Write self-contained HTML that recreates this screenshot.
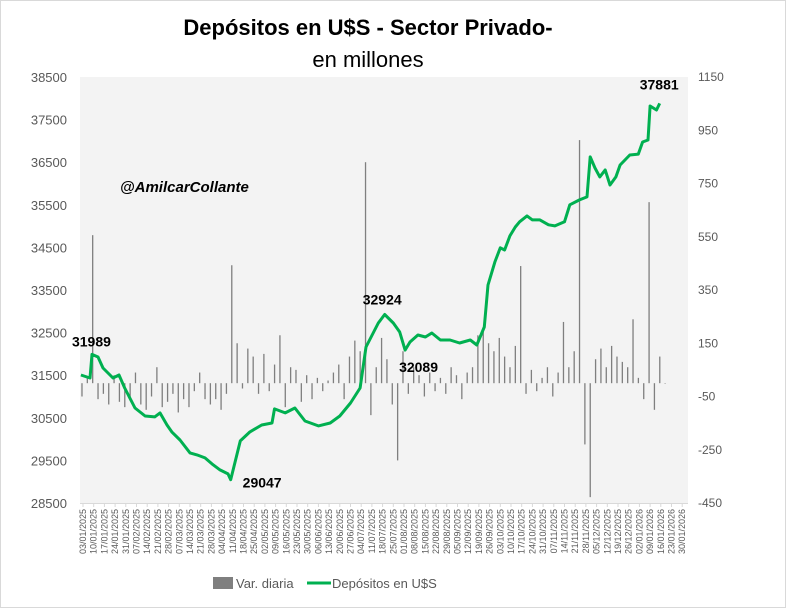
<!DOCTYPE html>
<html><head><meta charset="utf-8"><style>
body{margin:0;background:#fff;}
svg{display:block;font-family:"Liberation Sans",sans-serif;}
</style></head><body>
<svg id="chart" width="786" height="608" viewBox="0 0 786 608">
<rect x="0.5" y="0.5" width="785" height="607" fill="#fff" stroke="#d9d9d9"/>
<text x="368" y="35" text-anchor="middle" font-size="22" font-weight="bold" fill="#000">Depósitos en U$S - Sector Privado-</text>
<text x="368" y="67" text-anchor="middle" font-size="22" fill="#000">en millones</text>
<rect x="80" y="77" width="608" height="426" fill="#f3f3f3"/>
<g id="bars"></g>
<g id="axes"></g>
<path id="line" fill="none" stroke="#00b050" stroke-width="3" stroke-linejoin="round"/>
<text x="120" y="192" font-size="15" font-weight="bold" font-style="italic" fill="#000">@AmilcarCollante</text>
<g id="annots" font-size="14" font-weight="bold" fill="#000"></g>
<g>
<rect x="213" y="577" width="20" height="12" fill="#7f7f7f"/>
<text x="236" y="588" font-size="13" fill="#595959">Var. diaria</text>
<line x1="307" y1="583" x2="331" y2="583" stroke="#00b050" stroke-width="3"/>
<text x="332" y="588" font-size="13" fill="#595959">Depósitos en U$S</text>
</g>
</svg>
<script>
const weekLabels=["03/01/2025","10/01/2025","17/01/2025","24/01/2025","31/01/2025","07/02/2025","14/02/2025","21/02/2025","28/02/2025","07/03/2025","14/03/2025","21/03/2025","28/03/2025","04/04/2025","11/04/2025","18/04/2025","25/04/2025","02/05/2025","09/05/2025","16/05/2025","23/05/2025","30/05/2025","06/06/2025","13/06/2025","20/06/2025","27/06/2025","04/07/2025","11/07/2025","18/07/2025","25/07/2025","01/08/2025","08/08/2025","15/08/2025","22/08/2025","29/08/2025","05/09/2025","12/09/2025","19/09/2025","26/09/2025","03/10/2025","10/10/2025","17/10/2025","24/10/2025","31/10/2025","07/11/2025","14/11/2025","21/11/2025","28/11/2025","05/12/2025","12/12/2025","19/12/2025","26/12/2025","02/01/2026","09/01/2026","16/01/2026","23/01/2026","30/01/2026"];
const leftTicks=[28500,29500,30500,31500,32500,33500,34500,35500,36500,37500,38500];
const rightTicks=[-450,-250,-50,150,350,550,750,950,1150];
const lineWeeks=[-0.2,0.65,0.84,1.4,1.87,2.8,3.36,3.9,4.86,5.8,6.7,7.2,7.85,8.3,9.07,10,10.65,11.4,12.06,12.8,13.55,13.8,14.7,15.6,16.7,17.66,17.9,18.9,19.8,20.75,22,23.1,24,25,25.9,26.45,27.6,28.2,29,29.6,30.1,30.56,31.3,32,32.6,33.4,34.3,35.2,36.2,36.8,37.5,37.85,38.5,39,39.4,39.9,40.4,40.8,41.5,42,42.7,43.5,44.1,45,45.5,46.4,47.1,47.4,47.85,48.3,48.8,49.25,49.8,50.2,51.1,51.9,52.3,52.8,53,53.6,53.9];
const lineValues=[31505,31435,31989,31928,31670,31435,31505,31200,30731,30543,30520,30614,30332,30168,29980,29675,29628,29558,29417,29276,29182,29047,29957,30168,30332,30379,30708,30614,30731,30426,30309,30379,30543,30848,31200,32162,32726,32924,32726,32514,32089,32280,32444,32397,32491,32327,32327,32256,32327,32209,32632,33617,34160,34490,34440,34770,34980,35100,35240,35145,35145,35030,35005,35100,35500,35615,35685,36625,36365,36155,36320,35965,36155,36435,36670,36690,36975,37020,37820,37725,37881];
const barValues=[-50,20,556,-60,-40,-80,30,-70,-90,-60,40,-80,-100,-50,60,-90,-70,-40,-110,-60,-90,-30,40,-60,-80,-60,-100,-40,443,150,-20,130,100,-40,110,-30,70,180,-90,60,50,-70,30,-60,20,-30,10,40,70,-60,100,160,120,830,-120,60,170,90,-80,-290,120,-40,60,30,-50,40,-30,20,-40,60,30,-60,40,60,180,200,150,120,170,100,60,140,440,-40,50,-30,20,60,-50,40,230,60,120,913,-230,-428,90,130,60,140,100,80,60,240,20,-60,680,-100,100,0];
const annotations=[{w:0.84,v:31989,t:"31989",dx:-20,dy:-8},{w:13.8,v:29047,t:"29047",dx:12,dy:8},{w:28.2,v:32924,t:"32924",dx:-22,dy:-10},{w:30.1,v:32089,t:"32089",dx:-6,dy:22},{w:53.9,v:37881,t:"37881",dx:-20,dy:-14}];
const NS="http://www.w3.org/2000/svg";
const X0=83,XW=10.7,YT=77,YB=503;
function xs(w){return X0+w*XW;}
function yl(v){return YB-(v-28500)/10000*(YB-YT);}
function yr(v){return YB-(v+450)/1600*(YB-YT);}
function mk(tag,attrs,parent){const e=document.createElementNS(NS,tag);for(const k in attrs)e.setAttribute(k,attrs[k]);parent.appendChild(e);return e;}
const axes=document.getElementById('axes');
leftTicks.forEach(v=>{const t=mk('text',{x:67,y:yl(v)+5,'text-anchor':'end','font-size':13,fill:'#595959'},axes);t.textContent=v;

});
rightTicks.forEach(v=>{const t=mk('text',{x:698,y:yr(v)+4,'font-size':12,fill:'#595959'},axes);t.textContent=v;

});
mk('line',{x1:80,y1:YB+0.5,x2:688,y2:YB+0.5,stroke:'#d9d9d9'},axes);
weekLabels.forEach((d,i)=>{const x=xs(i);mk('line',{x1:x,y1:YB,x2:x,y2:YB+4,stroke:'#d9d9d9'},axes);
const t=mk('text',{x:0,y:0,'font-size':9,fill:'#595959','text-anchor':'end',transform:`translate(${x+3},${YB+6}) rotate(-90)`},axes);t.textContent=d;

});
const bars=document.getElementById('bars');
const y0=yr(0);
barValues.forEach((v,k)=>{const w=k*0.5-0.1;const y=yr(v);const r=mk('rect',{x:xs(w)-0.6,y:Math.min(y,y0),width:1.3,height:Math.max(Math.abs(y-y0),0.5),fill:'#7f7f7f'},bars);

});
document.getElementById('line').setAttribute('d',lineValues.map((v,i)=>(i?'L':'M')+xs(lineWeeks[i]).toFixed(1)+','+yl(v).toFixed(1)).join(''));
const an=document.getElementById('annots');
annotations.forEach(a=>{const t=mk('text',{x:xs(a.w)+a.dx,y:yl(a.v)+a.dy},an);t.textContent=a.t;

});
</script>
</body></html>
